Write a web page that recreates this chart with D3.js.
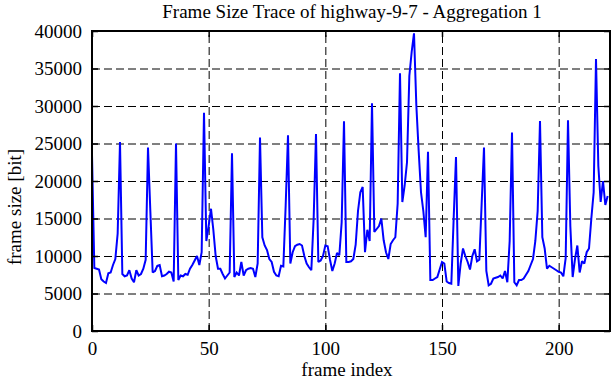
<!DOCTYPE html>
<html>
<head>
<meta charset="utf-8">
<script src="https://cdn.jsdelivr.net/npm/d3@7"></script>
<style>
  body { margin: 0; background: #fff; }
  svg { display: block; }
  svg text { font-family: "Liberation Serif", "Times New Roman", serif; }
</style>
</head>
<body>
<div id="chart"></div>
<script>
const titleText = "Frame Size Trace of highway-9-7 - Aggregation 1";
const xLabel = "frame index";
const yLabel = "frame size [bit]";

const xTicks = [0, 50, 100, 150, 200];
const yTicks = [0, 5000, 10000, 15000, 20000, 25000, 30000, 35000, 40000];

// frame size in bit, one value per frame
const frameSizes = [
  23500, 8400, 8300, 8200, 6900, 6600, 6400, 7700, 7800, 8800, 9600, 13000,
  25200, 7600, 7300, 7400, 8100, 7000, 6500, 8100, 7400, 7600, 8300, 9500,
  24450, 16000, 7800, 8000, 8700, 8800, 7300, 7400, 7600, 7900, 7800, 6600,
  25000, 6800, 7400, 7300, 7600, 7500, 8300, 8800, 9400, 10000, 8800, 10500,
  29100, 12000, 14000, 16300, 13500, 10000, 8300, 8300, 7600, 7000, 7400, 7800,
  23700, 7200, 7800, 7400, 9200, 7400, 8100, 8300, 8400, 8300, 7200, 9000,
  25800, 12500, 11400, 10800, 9600, 9200, 7900, 7400, 7300, 8700, 8600, 16700,
  26100, 9000, 10500, 11300, 11500, 11600, 11400, 10000, 9000, 8500, 8100, 15000,
  26250, 9200, 9400, 10000, 11400, 11300, 9500, 8000, 9000, 10400, 10100, 14500,
  27980, 9200, 9200, 9300, 9600, 11500, 16000, 18500, 19200, 10500, 13500, 12000,
  30350, 13200, 13600, 14000, 15000, 12100, 10500, 9600, 11600, 12100, 12500, 17000,
  34350, 17200, 19400, 22500, 34000, 37200, 39700, 30100, 24000, 18500, 16000, 12500,
  23900, 6800, 6800, 7000, 7200, 8200, 9200, 9000, 6600, 6400, 6300, 15000,
  23200, 6000, 9000, 11000, 10000, 9200, 8200, 10000, 10900, 9300, 9500, 17000,
  24450, 8000, 6100, 6300, 7000, 7100, 7200, 7400, 7000, 8000, 6500, 12000,
  26450, 6500, 6100, 6800, 6800, 7000, 7500, 8000, 8800, 9600, 12000, 16000,
  28000, 12500, 11000, 8300, 8700, 8500, 8300, 8100, 7900, 7800, 7300, 9700,
  28100, 14000, 7200, 9600, 11400, 7800, 9300, 9000, 10500, 11000, 15000, 18500,
  36260, 22000, 17200, 20000, 16800, 18000
];

const width = 612;
const height = 382;
const margin = { top: 31, right: 2, bottom: 51, left: 92 };
const fontSize = 19;
const fontFamily = '"Liberation Serif", "Times New Roman", serif';

const svg = d3
  .select("#chart")
  .append("svg")
  .attr("width", width)
  .attr("height", height);

const xScale = d3
  .scaleLinear()
  .domain([0, 222])
  .range([margin.left, width - margin.right]);

const yScale = d3
  .scaleLinear()
  .domain([0, 40000])
  .range([height - margin.bottom, margin.top]);

const plotW = width - margin.right - margin.left;
const plotH = height - margin.bottom - margin.top;

// dashed grid
svg
  .append("g")
  .attr("class", "grid")
  .attr("transform", `translate(0, ${height - margin.bottom})`)
  .call(d3.axisBottom(xScale).tickValues(xTicks.slice(1)).tickSize(-plotH).tickFormat(""))
  .call((g) => g.select(".domain").remove());

svg
  .append("g")
  .attr("class", "grid")
  .attr("transform", `translate(${margin.left}, 0)`)
  .call(d3.axisLeft(yScale).tickValues(yTicks.slice(1, -1)).tickSize(-plotW).tickFormat(""))
  .call((g) => g.select(".domain").remove());

svg
  .selectAll(".grid line")
  .attr("stroke", "#000")
  .attr("stroke-width", 1)
  .attr("stroke-dasharray", "8,4");

// the trace
const line = d3
  .line()
  .x((d, i) => xScale(i))
  .y((d) => yScale(d));

svg
  .append("path")
  .datum(frameSizes)
  .attr("fill", "none")
  .attr("stroke", "#0000ff")
  .attr("stroke-width", 2)
  .attr("stroke-linejoin", "miter")
  .attr("stroke-miterlimit", 2)
  .attr("d", line);

// axes with inward ticks on all four sides
const xAxis = d3
  .axisBottom(xScale)
  .tickValues(xTicks)
  .tickFormat(d3.format("d"))
  .tickSizeInner(-6)
  .tickSizeOuter(0)
  .tickPadding(11);

const yAxis = d3
  .axisLeft(yScale)
  .tickValues(yTicks)
  .tickFormat(d3.format("d"))
  .tickSizeInner(-6)
  .tickSizeOuter(0)
  .tickPadding(10);

svg
  .append("g")
  .attr("class", "axis")
  .attr("transform", `translate(0, ${height - margin.bottom})`)
  .call(xAxis);

svg
  .append("g")
  .attr("class", "axis")
  .attr("transform", `translate(${margin.left}, 0)`)
  .call(yAxis);

svg
  .append("g")
  .attr("class", "axis")
  .attr("transform", `translate(0, ${margin.top})`)
  .call(d3.axisTop(xScale).tickValues(xTicks).tickSizeInner(-6).tickSizeOuter(0).tickFormat(""));

svg
  .append("g")
  .attr("class", "axis")
  .attr("transform", `translate(${width - margin.right}, 0)`)
  .call(d3.axisRight(yScale).tickValues(yTicks).tickSizeInner(-6).tickSizeOuter(0).tickFormat(""));

svg
  .selectAll(".axis")
  .attr("font-family", fontFamily)
  .attr("font-size", fontSize);
svg.selectAll(".axis .domain").remove();
svg.selectAll(".axis line").attr("stroke", "#000").attr("stroke-width", 1.5);
svg.selectAll(".axis text").attr("fill", "#000");

// border box
svg
  .append("rect")
  .attr("x", margin.left)
  .attr("y", margin.top)
  .attr("width", plotW)
  .attr("height", plotH)
  .attr("fill", "none")
  .attr("stroke", "#000")
  .attr("stroke-width", 2);

// title and axis labels
svg
  .append("text")
  .attr("x", 352)
  .attr("y", 18)
  .attr("text-anchor", "middle")
  .attr("font-size", fontSize)
  .text(titleText);

svg
  .append("text")
  .attr("x", 347)
  .attr("y", 376)
  .attr("text-anchor", "middle")
  .attr("font-size", fontSize)
  .text(xLabel);

svg
  .append("text")
  .attr("transform", "translate(21, 207) rotate(-90)")
  .attr("text-anchor", "middle")
  .attr("font-size", fontSize)
  .text(yLabel);
</script>
</body>
</html>
